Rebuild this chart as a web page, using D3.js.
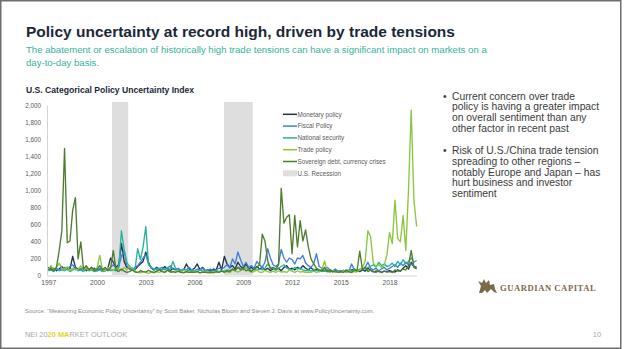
<!DOCTYPE html>
<html><head><meta charset="utf-8">
<script src="https://cdn.jsdelivr.net/npm/d3@7"></script>
<style>
body{margin:0;background:#fff}
svg{display:block;font-family:"Liberation Sans",Arial,sans-serif}
</style></head>
<body><svg id="c" width="624" height="349"></svg>
<script>
// ---- data (bi-monthly readings, Jan 1997 .. Sep 2019) ----
const startYear = 1997;
const stepsPerYear = 6;
const monetary = [
 90,60,80,50,70,100, 60,80,70,220,90,70, 60,90,50,70,60,80, 50,70,60,50,80,200,
 150,90,120,370,160,90, 70,80,60,100,130,160, 270,150,80,60,90,70, 60,100,70,50,80,60,
 70,50,60,130,70,60, 80,130,60,90,50,60, 50,70,60,150,60,220, 130,90,110,70,150,100,
 80,130,70,90,60,100, 70,90,60,80,50,70, 60,80,50,90,110,70, 80,60,90,70,110,80,
 60,90,50,70,40,60, 45,60,40,50,35,45, 40,55,35,45,60,70, 50,40,60,45,80,55,
 40,35,50,30,45,40, 50,40,35,60,45,80, 110,70,150,100,90];
const fiscal = [
 70,90,50,80,60,70, 90,60,100,120,70,60, 80,50,70,60,90,50, 60,80,50,70,60,90,
 120,80,100,220,290,110, 80,60,90,110,150,200, 240,130,90,60,80,70, 90,60,80,110,70,60,
 80,50,70,60,90,60, 50,70,60,80,50,60, 70,50,60,80,70,90, 120,80,190,130,270,180,
 100,150,90,110,80,160, 120,90,150,310,200,120, 100,130,300,200,150,200, 180,130,200,190,230,140,
 110,90,130,250,100,80, 70,90,60,50,70,45, 50,40,60,45,130,60, 50,70,60,90,150,80,
 60,80,50,70,90,60, 80,100,120,90,140,110, 150,120,130,100,90];
const nationalSecurity = [
 50,60,40,70,50,60, 50,70,40,60,80,50, 60,40,70,50,60,40, 50,60,40,50,70,50,
 60,50,80,520,300,150, 100,80,60,310,180,330, 570,120,90,70,60,80, 60,70,90,60,160,80,
 60,50,70,60,50,60, 50,40,60,45,50,40, 45,40,55,40,50,45, 60,50,70,60,90,80,
 60,90,70,50,80,60, 70,60,80,130,90,70, 60,80,100,120,80,70, 60,90,70,80,60,50,
 60,45,70,50,60,40, 50,40,60,45,55,40, 45,50,40,60,45,70, 50,60,80,70,90,100,
 120,90,150,110,130,100, 110,140,100,160,120,180, 130,160,200,150,170];
const tradePolicy = [
 70,110,60,90,140,80, 60,100,50,80,60,70, 110,60,90,50,70,60, 80,230,60,50,90,70,
 60,80,70,50,90,60, 110,70,40,30,25,40, 30,20,35,25,40,30, 45,30,60,35,30,50,
 40,30,55,35,30,40, 30,45,25,35,30,40, 25,40,30,35,45,30, 40,30,60,45,35,50,
 70,90,50,30,40,60, 35,30,55,40,30,45, 30,50,35,40,30,60, 45,30,50,35,40,30,
 35,30,45,30,40,60, 165,40,30,50,35,40, 30,45,35,50,30,40, 35,60,90,160,520,450,
 140,100,120,90,110,230, 500,370,880,430,390,700, 290,1000,1940,880,570];
const sovereignDebt = [
 60,75,50,90,280,520, 1490,380,400,760,910,190, 390,70,110,60,90,50, 70,110,60,90,50,80,
 290,60,40,70,45,30, 40,60,35,30,50,40, 35,55,40,30,45,60, 40,30,55,35,40,30,
 45,30,25,40,30,35, 30,40,25,35,30,25, 30,25,40,30,45,35, 50,40,70,55,90,60,
 80,50,60,40,70,90, 120,480,400,170,70,90, 70,120,1020,610,680,710, 250,700,330,640,400,530,
 330,190,130,80,60,50, 90,40,60,35,50,30, 40,30,55,35,30,60, 50,280,60,90,40,60,
 35,50,40,30,45,35, 40,30,60,45,50,70, 60,110,290,90,70];
const seriesNames = ["Monetary policy","Fiscal Policy","National security","Trade policy","Sovereign debt, currency crises"];
const seriesColors = ["#1f3547","#3d7fd9","#27b39b","#8cc63f","#4f7d2f"];
const recessions = [[2000.92, 2001.92],[2007.81, 2009.58]];
const yTicks = [0,200,400,600,800,1000,1200,1400,1600,1800,2000];
const xTicks = [1997,2000,2003,2006,2009,2012,2015,2018];
const bullets = [
 ["Current concern over trade","policy is having a greater impact","on overall sentiment than any","other factor in recent past"],
 ["Risk of U.S./China trade tension","spreading to other regions \u2013","notably Europe and Japan \u2013 has","hurt business and investor","sentiment"]
];

const allSeries = [monetary, fiscal, nationalSecurity, tradePolicy, sovereignDebt];
const svg = d3.select("#c");

// slide frame
svg.append("rect").attr("x",0.75).attr("y",0.75).attr("width",620).attr("height",347.5)
  .attr("fill","#fff").attr("stroke","#6e6e6e").attr("stroke-width",1.5);

// titles
svg.append("text").attr("x",26).attr("y",37).attr("fill","#1a2838")
  .attr("font-size",15.5).attr("font-weight","bold")
  .text("Policy uncertainty at record high, driven by trade tensions");
const sub = svg.append("g").attr("fill","#35b39c").attr("font-size",9.6);
sub.append("text").attr("x",26).attr("y",53).text("The abatement or escalation of historically high trade tensions can have a significant impact on markets on a");
sub.append("text").attr("x",26).attr("y",66).text("day-to-day basis.");
svg.append("text").attr("x",26).attr("y",93).attr("fill","#1a2838")
  .attr("font-size",8.6).attr("font-weight","bold").text("U.S. Categorical Policy Uncertainty Index");

// scales
const x = d3.scaleLinear().domain([1997, 2020]).range([48.3, 48.3 + 23*16.25]);
const y = d3.scaleLinear().domain([0, 2000]).range([275, 105]);

// recession bands
svg.append("g").selectAll("rect").data(recessions).join("rect")
  .attr("x", d => x(d[0])).attr("width", d => x(d[1]) - x(d[0]))
  .attr("y", 102).attr("height", 275 - 102).attr("fill", "#dedede");

// axes
const yAxis = svg.append("g").attr("transform","translate(47,0)")
  .call(d3.axisLeft(y).tickValues(yTicks).tickFormat(d3.format(",")).tickSize(0).tickPadding(6));
yAxis.select(".domain").attr("stroke","#d4d4d4");
yAxis.selectAll("text").attr("fill","#595959").attr("font-size",6.3).attr("font-family","Liberation Sans, Arial, sans-serif");

const xAxis = svg.append("g").attr("transform","translate(0,276)")
  .call(d3.axisBottom(x).tickValues(xTicks).tickFormat(d3.format("d")).tickSize(0).tickPadding(4));
xAxis.select(".domain").attr("stroke","#d4d4d4").attr("d","M47,0H417");
xAxis.selectAll("text").attr("fill","#595959").attr("font-size",6.8).attr("font-family","Liberation Sans, Arial, sans-serif");

// lines
const line = d3.line().x((d,i) => x(startYear + i/stepsPerYear)).y(d => y(d));
svg.append("g").selectAll("path").data(allSeries).join("path")
  .attr("d", d => line(d)).attr("fill","none")
  .attr("stroke", (d,i) => seriesColors[i]).attr("stroke-width",1.35)
  .attr("stroke-linejoin","round");

// legend
const lg = svg.append("g").attr("font-size",6.3).attr("fill","#595959");
seriesNames.forEach((n,i) => {
  const yy = 114.3 + i*11.8;
  lg.append("line").attr("x1",283).attr("x2",297).attr("y1",yy).attr("y2",yy)
    .attr("stroke",seriesColors[i]).attr("stroke-width",1.5);
  lg.append("text").attr("x",297.5).attr("y",yy).attr("dy","0.35em").text(n);
});
const ry = 114.3 + 5*11.8;
lg.append("rect").attr("x",283).attr("y",ry-3).attr("width",14).attr("height",6).attr("fill","#dedede");
lg.append("text").attr("x",297.5).attr("y",ry).attr("dy","0.35em").text("U.S. Recession");

// bullets
const bg = svg.append("g").attr("font-size",10.3).attr("fill","#3a3a3a");
let by = 99.5;
bullets.forEach((b,bi) => {
  bg.append("text").attr("x",443).attr("y",by).text("\u2022");
  b.forEach((ln,li) => {
    bg.append("text").attr("x",452).attr("y",by + li*10.67).text(ln);
  });
  by += b.length*10.67 + 12.1;
});

// logo
const logo = svg.append("g").attr("fill","#7b6a4a");
logo.append("path").attr("d","M479,293 L481,286 L478,281 L482,283 L484,279 L486,283 L489,280 L490,285 L494,284 L495,289 L497,293 L494,292 L491,289 L487,293 L485,290 L482,293 Z");
logo.append("text").attr("x",500).attr("y",290.5).attr("font-family","Liberation Serif, Times New Roman, serif")
  .attr("font-size",8.6).attr("letter-spacing",0.55).attr("font-weight","bold").text("GUARDIAN CAPITAL");

// footer
svg.append("text").attr("x",25).attr("y",313).attr("font-size",5.9).attr("fill","#8a8a8a")
  .text("Source: \u201cMeasuring Economic Policy Uncertainty\u201d by Scott Baker, Nicholas Bloom and Steven J. Davis at www.PolicyUncertainty.com.");
const ft = svg.append("text").attr("x",25).attr("y",337).attr("font-size",7.4).attr("fill","#a8a8a8");
ft.append("tspan").text("NEI 20");
ft.append("tspan").attr("fill","#e8d21a").attr("font-weight","bold").text("20 MA");
ft.append("tspan").text("RKET OUTLOOK");
svg.append("text").attr("x",601).attr("y",337).attr("text-anchor","end").attr("font-size",7.4).attr("fill","#a8a8a8").text("10");
</script></body></html>
